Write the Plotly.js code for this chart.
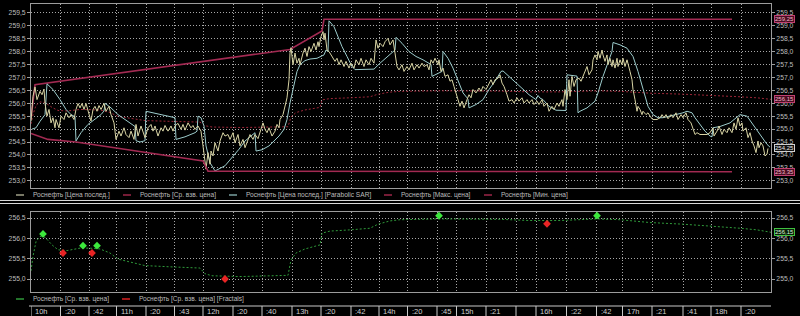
<!DOCTYPE html>
<html><head><meta charset="utf-8">
<script src="https://cdn.plot.ly/plotly-3.0.1.min.js"></script>
<style>html,body{margin:0;padding:0;background:#000;overflow:hidden}#chart{width:800px;height:316px}</style>
</head><body><div id="chart"></div>
<script>
// ---- data (x = bar index on the intraday scale) ----
const priceIdx = [31,33,35,37,40,42,44,45,47,49,
51,53,55,56,59,61,64,66,69,71,
74,76,78,80,82,84,86,89,91,93,
95,97,99,101,104,106,109,111,114,116,
119,121,124,126,129,131,134,136,138,141,
143,145,148,151,153,155,158,161,163,165,
168,171,173,175,178,181,183,185,188,191,
193,195,198,201,203,205,206,208,210,211,
213,215,218,220,223,225,228,230,233,235,
238,240,243,245,248,250,253,255,258,260,
263,265,267,269,272,275,277,279,280,283,
285,287,289,290,291,293,295,297,299,300,
303,305,307,309,311,314,316,318,319,321,
323,324,325,327,329,332,335,337,339,341,
344,346,349,351,354,356,359,361,364,366,
369,371,374,376,378,380,383,385,388,390,
393,395,397,399,402,404,407,409,412,414,
417,419,422,424,427,429,431,433,435,438,
439,441,443,445,448,450,452,454,456,458,
460,462,464,467,469,471,473,476,479,481,
483,486,489,491,493,495,498,500,502,504,
507,509,512,514,517,519,522,524,527,529,
532,534,537,539,542,544,547,549,552,554,
557,559,562,563,565,567,569,570,572,574,
576,579,581,583,585,587,589,592,593,595,
597,598,600,602,603,605,607,608,610,612,
613,615,617,618,620,622,623,625,627,628,
630,632,633,635,637,638,640,642,643,646,
648,651,653,657,660,662,664,666,668,671,
673,676,678,681,683,686,688,691,693,695,
697,700,703,707,710,713,714,717,719,722,
724,727,729,732,734,736,738,740,742,743,
746,748,750,752,754,756,758,759,761,763,
765,767,768];
const priceVal = [255.3,256.27,256.63,256.14,256.46,256.33,256.55,256.0,255.5,255.76,
255.24,255.44,255.05,255.37,255.05,255.5,255.37,255.63,255.44,255.56,
255.37,255.76,255.99,255.82,255.99,255.76,255.99,255.56,255.31,255.76,
255.88,255.69,255.91,255.76,255.99,255.69,255.88,255.56,255.24,254.6,
254.92,254.73,255.05,254.79,254.67,254.92,254.6,255.18,254.73,255.12,
254.92,254.67,255.05,255.18,254.92,255.12,254.73,255.05,254.92,255.14,
254.92,255.12,254.92,255.12,255.22,254.99,255.18,254.96,255.24,255.05,
255.14,254.99,255.12,254.92,254.35,253.83,253.45,254.09,253.64,254.15,
253.96,254.47,254.15,254.54,254.86,254.73,254.79,254.6,254.86,254.47,
254.79,254.35,254.6,254.28,254.6,254.79,254.6,254.79,254.63,254.86,
255.24,254.99,254.86,255.05,254.73,254.92,255.18,255.05,255.37,255.56,
255.88,256.21,256.91,257.94,258.15,257.49,257.94,257.55,257.74,257.49,
257.94,258.13,257.81,258.19,258.0,258.32,258.06,258.38,258.19,258.58,
258.77,258.45,258.71,258.06,258.0,257.81,257.62,257.74,257.49,257.68,
257.42,257.62,257.36,257.55,257.36,257.68,257.49,257.74,257.42,257.68,
257.49,257.74,257.55,258.45,258.13,258.32,258.19,258.38,258.51,258.26,
258.45,257.94,257.42,257.29,257.49,257.23,257.42,257.29,257.55,257.29,
257.49,257.36,257.55,257.42,257.49,257.29,257.68,257.55,257.74,257.49,
257.68,257.23,257.36,257.04,257.1,256.85,256.91,256.65,256.4,256.14,
255.88,256.08,255.82,256.14,256.33,256.21,256.53,256.4,256.59,256.46,
256.65,256.53,256.78,256.91,256.72,256.91,256.97,257.1,256.78,256.65,
256.33,256.08,256.14,256.01,256.21,256.08,256.21,256.01,256.14,256.01,
256.14,255.95,256.08,255.95,256.14,255.88,256.01,255.69,255.88,255.76,
256.01,255.88,256.14,255.88,256.53,256.14,256.91,256.27,257.04,256.65,
256.91,256.97,256.85,257.04,257.23,257.42,257.1,257.29,257.68,257.87,
257.68,258.0,257.74,258.06,257.87,257.62,257.87,257.49,257.74,257.42,
257.68,257.36,257.74,257.42,257.68,257.49,257.74,257.42,257.68,257.49,
257.23,256.91,256.53,256.14,255.69,255.88,255.76,255.56,255.69,255.56,
255.63,255.44,255.37,255.37,255.44,255.56,255.44,255.56,255.4,255.56,
255.44,255.63,255.37,255.56,255.44,255.63,255.37,255.24,255.05,254.79,
254.86,254.79,254.79,254.79,254.86,255.05,254.73,254.92,255.12,254.79,
254.99,254.86,255.05,254.86,255.24,254.99,255.44,255.12,255.24,254.92,
255.05,254.67,254.86,254.54,254.35,254.09,254.54,254.28,254.47,254.35,
253.96,254.03,254.25];

const sarIdx = [32,36,40,45,47,53,60,66,71,75,
76,81,88,95,101,104,105,111,118,125,
133,135,136,140,145,146,161,175,176,185,
195,197,198,201,204,206,210,213,215,225,
232,239,245,252,255,256,262,269,274,279,
284,287,290,294,297,300,305,310,317,324,
326,328,329,334,338,342,347,352,355,362,
369,374,380,386,392,395,396,402,409,416,
423,429,431,432,438,442,443,448,453,458,
463,467,468,469,476,483,489,496,501,503,
509,516,523,529,536,538,540,543,549,556,
566,567,577,578,580,587,595,598,603,608,
612,613,620,627,633,638,643,648,653,658,
663,670,677,683,687,692,695,700,705,710,
712,713,720,730,738,740,747,753,760,767,
770];
const sarVal = [255.0,255.05,255.3,255.56,256.75,256.53,256.14,255.76,255.56,255.48,
254.54,254.86,255.18,255.37,255.56,255.7,256.0,255.82,255.56,255.37,
255.18,255.1,254.55,254.5,254.55,255.69,255.56,255.44,254.6,254.7,
254.86,254.92,255.5,255.44,255.12,254.35,253.7,253.51,253.38,253.58,
253.9,254.22,254.54,254.79,254.86,254.15,254.2,254.35,254.54,254.73,
254.99,255.37,256.01,256.78,257.23,257.49,257.65,257.71,257.74,257.87,
258.06,258.0,259.19,258.96,258.58,258.19,257.81,257.42,257.3,257.3,
257.3,257.32,257.55,257.75,257.98,258.06,258.55,258.32,258.0,257.81,
257.68,257.55,257.5,257.04,257.14,257.23,258.0,257.74,257.36,256.85,
256.4,256.21,256.15,255.82,255.95,256.14,256.53,256.91,257.23,257.25,
257.04,256.78,256.53,256.33,256.14,256.3,256.2,256.14,255.88,255.73,
255.72,257.1,257.05,255.63,255.69,255.82,256.08,256.4,257.04,257.55,
258.0,258.35,258.26,258.13,257.81,257.23,256.53,255.88,255.56,255.44,
255.44,255.5,255.56,255.63,255.69,255.63,255.44,255.18,254.92,254.73,
254.7,255.05,255.1,255.24,255.5,255.56,255.5,255.18,254.79,254.41,
254.3];

const vwapIdx = [31,33,36,40,45,52,58,67,80,90,100,110,118,135,145,170,200,205,212,240,270,288,291,296,305,316,320,322,330,350,370,378,390,400,440,500,530,560,597,620,650,683,710,740,757,771];
const vwapVal = [255.2,255.56,255.92,256.05,256.03,255.84,255.72,255.7,255.76,255.76,255.74,255.64,255.49,255.39,255.33,255.3,255.27,255.13,255.08,255.06,255.07,255.09,255.47,255.64,255.74,255.8,255.84,256.13,256.18,256.21,256.25,256.35,256.43,256.46,256.48,256.47,256.44,256.44,256.48,256.46,256.39,256.35,256.31,256.25,256.21,256.15];

const maxIdx = [31,35,290,322,324,732];
const maxVal = [255.4,256.72,258.08,258.8,259.25,259.25];
const minIdx = [31,48,76,203,208,732];
const minVal = [254.83,254.6,254.5,253.77,253.37,253.35];

const fracUpIdx = [43,83,97,439,597];
const fracUpVal = [256.11,255.82,255.82,256.56,256.56];
const fracDnIdx = [63,92,225,547];
const fracDnVal = [255.64,255.64,255.0,256.36];

const timeTickIdx = [31,60.5,89,116.5,146,174.5,203,233,262,292,321,351,379,407.5,437,456.5,486,516,536,566.5,596.5,622.5,652,683,711,741];
const timeTickText = ['10h',':20',':42','11h',':20',':43','12h',':20',':40','13h',':20',':42','14h',':20',':45','15h',':21','','16h',':22',':42','17h',':21',':41','18h',':20'];

const legendTop = ['Роснефть [Цена послед.]','Роснефть [Ср. взв. цена]','Роснефть [Цена послед.] [Parabolic SAR]','Роснефть [Макс. цена]','Роснефть [Мин. цена]'];
const legendBottom = ['Роснефть [Ср. взв. цена]','Роснефть [Ср. взв. цена] [Fractals]'];

// ---- geometry helpers (pixel -> paper) ----
const L = 31, R = 771, T = 4, PB = 306;
const px = x => (x - L) / (R - L);
const py = y => (PB - y) / (PB - T);
const fmt = v => v.toFixed(2).replace('.', ',');

const C = {
  price: '#d8d4a4', sar: '#9ccccc', env: '#a22a52', vwapTop: '#9c2638',
  vwapBot: '#2f9a3a', up: '#3ce83c', dn: '#e82424', grid: '#a8a8a8', axis: '#9c9c9c', txt: '#bcbcbc'
};
const FONT = 'Liberation Sans, Arial, sans-serif';

const traces = [
  {x: maxIdx, y: maxVal, type: 'scatter', mode: 'lines', line: {color: C.env, width: 1.6}, xaxis: 'x', yaxis: 'y', hoverinfo: 'skip'},
  {x: minIdx, y: minVal, type: 'scatter', mode: 'lines', line: {color: C.env, width: 1.6}, xaxis: 'x', yaxis: 'y3', hoverinfo: 'skip'},
  {x: vwapIdx, y: vwapVal, type: 'scatter', mode: 'lines', line: {color: C.vwapTop, width: 1, dash: '2px,2px'}, xaxis: 'x', yaxis: 'y', hoverinfo: 'skip'},
  {x: sarIdx, y: sarVal, type: 'scatter', mode: 'lines', line: {color: C.sar, width: 1}, xaxis: 'x', yaxis: 'y', hoverinfo: 'skip'},
  {x: priceIdx, y: priceVal, type: 'scatter', mode: 'lines', line: {color: C.price, width: 1}, xaxis: 'x', yaxis: 'y', hoverinfo: 'skip'},
  {x: vwapIdx, y: vwapVal, type: 'scatter', mode: 'lines', line: {color: C.vwapBot, width: 1, dash: '2px,2px'}, xaxis: 'x2', yaxis: 'y2', hoverinfo: 'skip'},
  {x: fracUpIdx, y: fracUpVal, type: 'scatter', mode: 'markers', marker: {symbol: 'diamond', size: 6, color: C.up}, xaxis: 'x2', yaxis: 'y2', hoverinfo: 'skip'},
  {x: fracDnIdx, y: fracDnVal, type: 'scatter', mode: 'markers', marker: {symbol: 'diamond', size: 6, color: C.dn}, xaxis: 'x2', yaxis: 'y4', hoverinfo: 'skip'}
];

const topRange = [252.72, 259.84];
const botRange = [254.68, 256.65];
const gridDash = '1px,2px';

const xCommon = {
  range: [L, R], tickmode: 'array', tickvals: timeTickIdx, showticklabels: false, ticks: '',
  showgrid: true, gridcolor: C.grid, griddash: gridDash, gridwidth: 1,
  showline: true, mirror: true, linecolor: C.axis, linewidth: 1, zeroline: false, fixedrange: true
};
const yCommon = {
  dtick: 0.5, tickformat: '.1f', ticks: 'outside', ticklen: 3, tickcolor: C.axis,
  tickfont: {family: FONT, size: 6.8, color: C.txt}, zeroline: false, fixedrange: true
};

const annotations = [];
const shapes = [];

// right-side value boxes
function valueBox(val, yref, border, bg, color) {
  annotations.push({xref: 'paper', x: px(774), xanchor: 'left', yref: yref, y: val, yanchor: 'middle',
    text: fmt(val), showarrow: false, font: {family: FONT, size: 6, color: color},
    bgcolor: bg, bordercolor: border, borderwidth: 1, borderpad: 0});
}
valueBox(maxVal[maxVal.length - 1], 'y', '#c04070', '#4a0c22', '#f0b8c8');
valueBox(vwapVal[vwapVal.length - 1], 'y', '#c04070', '#4a0c22', '#f0b8c8');
valueBox(priceVal[priceVal.length - 1], 'y', '#d0d0d0', '#101010', '#e8e8e8');
valueBox(minVal[minVal.length - 1], 'y', '#c04070', '#4a0c22', '#f0b8c8');
valueBox(vwapVal[vwapVal.length - 1], 'y2', '#40c040', '#082008', '#d8f0d8');

// legends
const legTopX = [31, 138, 244, 399, 499];
const legTopCol = ['#a0a088', '#9c2648', '#78a0a0', '#9c2648', '#9c2648'];
legendTop.forEach((t, i) => {
  shapes.push({type: 'line', xref: 'paper', yref: 'paper', x0: px(legTopX[i] - 15), x1: px(legTopX[i] - 7),
    y0: py(195), y1: py(195), line: {color: legTopCol[i], width: 1.5}});
  annotations.push({xref: 'paper', yref: 'paper', x: px(legTopX[i]), y: py(195), xanchor: 'left', yanchor: 'middle',
    text: t, showarrow: false, font: {family: FONT, size: 6.6, color: C.txt}});
});
const legBotX = [31, 137];
const legBotCol = ['#2f9a3a', '#d82020'];
legendBottom.forEach((t, i) => {
  shapes.push({type: 'line', xref: 'paper', yref: 'paper', x0: px(legBotX[i] - 15), x1: px(legBotX[i] - 7),
    y0: py(299), y1: py(299), line: {color: legBotCol[i], width: 1.5}});
  annotations.push({xref: 'paper', yref: 'paper', x: px(legBotX[i]), y: py(299), xanchor: 'left', yanchor: 'middle',
    text: t, showarrow: false, font: {family: FONT, size: 6.6, color: C.txt}});
});

// separator double line between panels
[200.5, 203.5].forEach(y => shapes.push({type: 'line', xref: 'paper', yref: 'paper', x0: px(0), x1: px(800),
  y0: py(y), y1: py(y), line: {color: '#d8d8d8', width: 1}}));

// time strip
shapes.push({type: 'line', xref: 'paper', yref: 'paper', x0: px(29), x1: px(771), y0: py(306), y1: py(306), line: {color: '#c8c8c8', width: 1}});
timeTickIdx.forEach((v, i) => {
  shapes.push({type: 'line', xref: 'x2', yref: 'paper', x0: v, x1: v, y0: py(306), y1: py(316), line: {color: '#c8c8c8', width: 1}});
  if (timeTickText[i]) annotations.push({xref: 'x2', yref: 'paper', x: v, xshift: 2, y: py(311.5), xanchor: 'left', yanchor: 'middle',
    text: timeTickText[i], showarrow: false, font: {family: FONT, size: 7.5, color: '#d0d0d0'}});
});

const layout = {
  width: 800, height: 316,
  margin: {l: L, r: 800 - R, t: T, b: 316 - PB, pad: 0},
  paper_bgcolor: '#000', plot_bgcolor: '#000', showlegend: false,
  separators: ', ', font: {family: FONT, size: 6.8, color: C.txt},
  xaxis: Object.assign({}, xCommon, {domain: [0, 1], anchor: 'y'}),
  xaxis2: Object.assign({}, xCommon, {domain: [0, 1], anchor: 'y2'}),
  yaxis: Object.assign({}, yCommon, {domain: [py(188), 1], range: topRange, tick0: 253, side: 'right', anchor: 'x',
    showgrid: true, gridcolor: C.grid, griddash: gridDash, showline: true, mirror: 'ticks', linecolor: C.axis}),
  yaxis3: Object.assign({}, yCommon, {range: topRange, tick0: 253, side: 'left', overlaying: 'y', anchor: 'x', showgrid: false, showline: false}),
  yaxis2: Object.assign({}, yCommon, {domain: [py(292), py(212)], range: botRange, tick0: 255, side: 'right', anchor: 'x2',
    showgrid: true, gridcolor: C.grid, griddash: gridDash, showline: true, mirror: 'ticks', linecolor: C.axis}),
  yaxis4: Object.assign({}, yCommon, {range: botRange, tick0: 255, side: 'left', overlaying: 'y2', anchor: 'x2', showgrid: false, showline: false}),
  annotations: annotations, shapes: shapes
};

Plotly.newPlot('chart', traces, layout, {staticPlot: true, displayModeBar: false});
</script>
</body></html>
